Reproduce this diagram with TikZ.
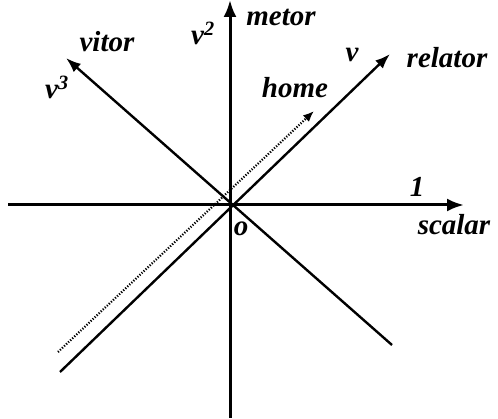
\documentclass[tikz,border=0pt]{standalone}
\usepackage{fontspec}
\setmainfont{Liberation Serif}
\usetikzlibrary{positioning,arrows.meta}

\begin{document}
\begin{tikzpicture}[
    x=1pt, y=-1pt,
    axisLine/.style={line width=3pt, draw=black},
    diagLine/.style={line width=2.4pt, draw=black},
    axisArrow/.style={-{Latex[length=17pt,width=13pt]}},
    diagArrow/.style={-{Latex[length=15pt,width=11pt]}},
    labelText/.style={font=\fontsize{29}{31}\selectfont\bfseries\itshape, inner sep=0pt}
]
    \useasboundingbox (0,0) rectangle (498,419);

    % points
    \coordinate (o)     at (230,205);
    \coordinate (xL)    at (8,205);
    \coordinate (xR)    at (464,205);
    \coordinate (yB)    at (230,418);
    \coordinate (yT)    at (230,0);
    \coordinate (relB)  at (60,372);
    \coordinate (relT)  at (390,54);
    \coordinate (vitB)  at (392,345);
    \coordinate (vitT)  at (66,58);
    \coordinate (homB)  at (58,352);
    \coordinate (homT)  at (314,111);

    % axes
    \draw[axisLine, axisArrow] (xL) -- (xR);
    \draw[axisLine, axisArrow] (yB) -- (yT);

    % diagonals
    \draw[diagLine, diagArrow] (relB) -- (relT);
    \draw[diagLine, diagArrow] (vitB) -- (vitT);
    \draw[line width=2.2pt, dash pattern=on 1.2pt off 1.6pt, -{Latex[length=11pt,width=9pt]}] (homB) -- (homT);

    % labels
    \node[labelText] (lvitor)   at (107,42)  {vitor};
    \node[labelText] (lv3)      at (57,87)   {v\textsuperscript{3}};
    \node[labelText] (lv2)      at (203,33)  {v\textsuperscript{2}};
    \node[labelText] (lmetor)   at (281,17)  {metor};
    \node[labelText] (lv)       at (352,55)  {v};
    \node[labelText] (lrelator) at (447,58)  {relator};
    \node[labelText] (lhome)    at (295,88)  {home};
    \node[labelText] (lone)     at (417,187) {1};
    \node[labelText] (lscalar)  at (454,225) {scalar};
    \node[labelText] (lo)       at (241,229) {o};
\end{tikzpicture}
\end{document}
